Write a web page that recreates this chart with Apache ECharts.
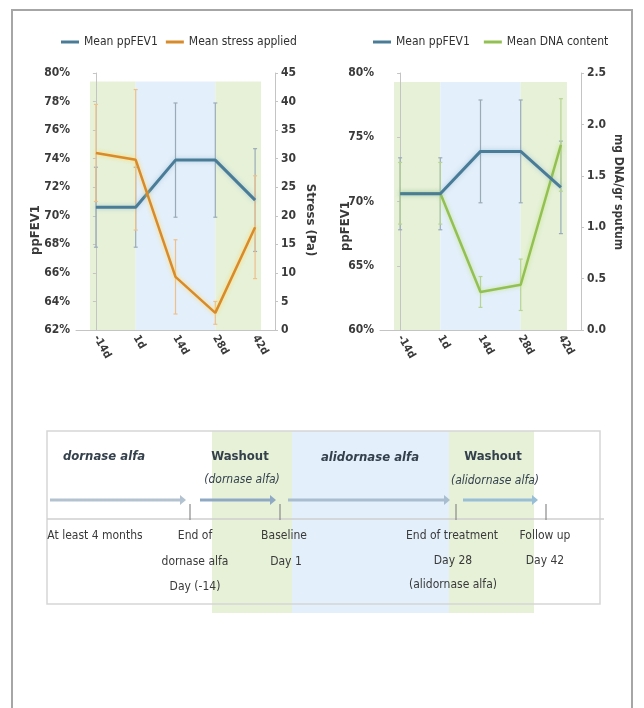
<!DOCTYPE html>
<html>
<head>
<meta charset="utf-8">
<script src="https://cdn.jsdelivr.net/npm/echarts@6/dist/echarts.min.js"></script>
<style>
  html, body { margin: 0; padding: 0; background: #fff; }
  #chart { width: 644px; height: 708px; }
</style>
</head>
<body>
<div id="chart"></div>
<script>
// Visit labels shared by both panels
const visits = ['-14d', '1d', '14d', '28d', '42d'];

// Mean ppFEV1 (%) and its spread
const ppfev1 = [70.6, 70.6, 73.9, 73.9, 71.1];
const ppfev1Sd = [2.8, 2.8, 4.0, 4.0, 3.6];

// Mean stress applied (Pa) and its spread
const stress = [31.0, 29.8, 9.3, 3.0, 18.0];
const stressSd = [8.5, 12.3, 6.5, 2.0, 9.0];

// Mean DNA content (mg DNA/gr sputum) and its spread
const dna = [1.33, 1.33, 0.37, 0.44, 1.80];
const dnaSd = [0.30, 0.30, 0.15, 0.25, 0.45];

// Study phases behind the curves: start / end visit index, phase colour
const phaseStart = [-0.15, 1, 3];
const phaseEnd = [1, 3, 4.15];
const phaseColor = ['#e6f1d8', '#e3effa', '#e6f1d8'];

const FONT = "'Liberation Sans Narrow', 'DejaVu Sans Condensed', 'Liberation Sans', sans-serif";
const TXT = '#3a3a3a';
const BLUE = '#4a7c98';
const ORANGE = '#d98a2b';
const GREEN = '#93c052';

function bandSeries(xi, yi, yTop, yBottom) {
  return {
    type: 'custom',
    xAxisIndex: xi, yAxisIndex: yi,
    silent: true, z: 0,
    data: phaseStart.map((s, i) => [s, phaseEnd[i], i]),
    renderItem: function (params, api) {
      const p0 = api.coord([api.value(0), yTop]);
      const p1 = api.coord([api.value(1), yBottom]);
      return {
        type: 'rect',
        shape: { x: p0[0], y: p0[1], width: p1[0] - p0[0], height: p1[1] - p0[1] },
        style: { fill: phaseColor[api.value(2)] }
      };
    }
  };
}

function errorSeries(xi, yi, means, sds, color) {
  return {
    type: 'custom',
    xAxisIndex: xi, yAxisIndex: yi,
    silent: true, z: 2,
    data: means.map((m, i) => [i, m - sds[i], m + sds[i]]),
    renderItem: function (params, api) {
      const lo = api.coord([api.value(0), api.value(1)]);
      const hi = api.coord([api.value(0), api.value(2)]);
      const st = { stroke: color, lineWidth: 1.2 };
      return {
        type: 'group',
        children: [
          { type: 'line', shape: { x1: lo[0], y1: lo[1], x2: hi[0], y2: hi[1] }, style: st },
          { type: 'line', shape: { x1: lo[0] - 2, y1: lo[1], x2: lo[0] + 2, y2: lo[1] }, style: st },
          { type: 'line', shape: { x1: hi[0] - 2, y1: hi[1], x2: hi[0] + 2, y2: hi[1] }, style: st }
        ]
      };
    }
  };
}

function lineSeries(name, xi, yi, values, color, width, glow) {
  return {
    name: name, type: 'line',
    xAxisIndex: xi, yAxisIndex: yi,
    data: values, symbol: 'none', z: 3,
    color: color,
    lineStyle: {
      color: color, width: width,
      shadowColor: glow, shadowBlur: 4
    }
  };
}

const axisLine = { show: true, lineStyle: { color: '#c4c4c4', width: 1 } };
const axisTick = { show: true, length: 3, lineStyle: { color: '#c4c4c4' } };
const labelStyle = { color: TXT, fontFamily: FONT, fontSize: 12, fontWeight: 'bold' };

function catAxis(gi) {
  return {
    type: 'category', gridIndex: gi, data: visits,
    axisLine: axisLine, axisTick: { show: false },
    axisLabel: Object.assign({ rotate: -60, margin: 6 }, labelStyle, { fontSize: 11 })
  };
}
function hiddenAxis(gi) {
  return { type: 'value', gridIndex: gi, min: -0.5, max: 4.5, show: false };
}
function valAxis(gi, pos, min, max, interval, fmt) {
  return {
    type: 'value', gridIndex: gi, position: pos,
    min: min, max: max, interval: interval,
    splitLine: { show: false },
    axisLine: axisLine, axisTick: axisTick,
    axisLabel: Object.assign({ formatter: fmt, margin: 6 }, labelStyle)
  };
}

const legendText = { color: '#303030', fontFamily: FONT, fontSize: 12 };

const option = {
  backgroundColor: '#ffffff',
  animation: false,
  legend: [
    {
      left: 56, top: 31, width: 280, icon: 'rect', itemWidth: 18, itemHeight: 3, itemGap: 8,
      data: ['Mean ppFEV1', 'Mean stress applied'], textStyle: legendText
    },
    {
      left: 368, top: 31, width: 262, icon: 'rect', itemWidth: 18, itemHeight: 3, itemGap: 14,
      data: ['Mean ppFEV1', 'Mean DNA content'], textStyle: legendText
    }
  ],
  grid: [
    { left: 76, top: 73, width: 199, height: 257 },
    { left: 380, top: 73, width: 201, height: 257 }
  ],
  xAxis: [catAxis(0), hiddenAxis(0), catAxis(1), hiddenAxis(1)],
  yAxis: [
    valAxis(0, 'left', 62, 80, 2, '{value}%'),
    valAxis(0, 'right', 0, 45, 5, '{value}'),
    valAxis(1, 'left', 60, 80, 5, '{value}%'),
    valAxis(1, 'right', 0, 2.5, 0.5, v => v.toFixed(1))
  ],
  series: [
    bandSeries(1, 0, 79.4, 62),
    errorSeries(1, 0, ppfev1, ppfev1Sd, '#9aabb8'),
    errorSeries(1, 1, stress, stressSd, '#eec08a'),
    lineSeries('Mean ppFEV1', 0, 0, ppfev1, BLUE, 3, 'rgba(120,170,200,0.5)'),
    lineSeries('Mean stress applied', 0, 1, stress, ORANGE, 2.5, 'rgba(255,215,90,0.9)'),

    bandSeries(3, 2, 79.3, 60),
    errorSeries(3, 2, ppfev1, ppfev1Sd, '#9aabb8'),
    errorSeries(3, 3, dna, dnaSd, '#b6d494'),
    lineSeries('Mean DNA content', 2, 3, dna, GREEN, 2.5, 'rgba(190,225,120,0.8)'),
    lineSeries('Mean ppFEV1', 2, 2, ppfev1, BLUE, 3, 'rgba(120,170,200,0.5)')
  ],
  graphic: buildGraphics()
};

function txt(x, y, s, opts) {
  return {
    type: 'text', x: x, y: y, silent: true,
    rotation: (opts && opts.rotation) || 0,
    style: Object.assign({
      text: s, fill: TXT, font: 'bold 12px ' + FONT,
      align: 'center', verticalAlign: 'middle'
    }, (opts && opts.style) || {})
  };
}

function arrow(x1, x2, y, color) {
  return [
    { type: 'line', silent: true, shape: { x1: x1, y1: y, x2: x2 - 4, y2: y }, style: { stroke: color, lineWidth: 3 } },
    { type: 'polygon', silent: true, shape: { points: [[x2 - 6, y - 5], [x2, y], [x2 - 6, y + 5]] }, style: { fill: color } }
  ];
}

function tick(x) {
  return { type: 'line', silent: true, shape: { x1: x, y1: 504, x2: x, y2: 520 }, style: { stroke: '#8a8a8a', lineWidth: 1.2 } };
}

function buildGraphics() {
  const g = [];
  // outer frame
  g.push({ type: 'rect', silent: true, shape: { x: 12, y: 10, width: 620, height: 720 }, style: { fill: 'none', stroke: '#a6a6a6', lineWidth: 2 } });

  // axis titles of the two panels
  g.push(txt(36, 230, 'ppFEV1', { rotation: Math.PI / 2, style: { font: 'bold 13px ' + FONT } }));
  g.push(txt(310, 220, 'Stress (Pa)', { rotation: -Math.PI / 2, style: { font: 'bold 13px ' + FONT } }));
  g.push(txt(346, 226, 'ppFEV1', { rotation: Math.PI / 2, style: { font: 'bold 13px ' + FONT } }));
  g.push(txt(618, 192, 'mg DNA/gr sputum', { rotation: -Math.PI / 2, style: { font: 'bold 12px ' + FONT } }));

  // study timeline: phase shading
  g.push({ type: 'rect', silent: true, z: -1, shape: { x: 212, y: 431, width: 80, height: 182 }, style: { fill: '#e6f1d8' } });
  g.push({ type: 'rect', silent: true, z: -1, shape: { x: 292, y: 431, width: 157, height: 182 }, style: { fill: '#e3effa' } });
  g.push({ type: 'rect', silent: true, z: -1, shape: { x: 449, y: 431, width: 85, height: 182 }, style: { fill: '#e6f1d8' } });
  // timeline box and divider
  g.push({ type: 'rect', silent: true, shape: { x: 47, y: 431, width: 553, height: 173 }, style: { fill: 'none', stroke: '#d6d6d6', lineWidth: 1.5 } });
  g.push({ type: 'line', silent: true, shape: { x1: 47, y1: 519, x2: 604, y2: 519 }, style: { stroke: '#cfcfcf', lineWidth: 1.5 } });

  // phase arrows and visit ticks
  arrow(50, 186, 500, '#b3c2d0').forEach(e => g.push(e));
  arrow(200, 276, 500, '#8fa9c4').forEach(e => g.push(e));
  arrow(288, 450, 500, '#a9bdd1').forEach(e => g.push(e));
  arrow(463, 538, 500, '#98bfd6').forEach(e => g.push(e));
  [190, 280, 456, 546].forEach(x => g.push(tick(x)));

  const bi = 'italic bold 13px ' + FONT;
  const b = 'bold 13px ' + FONT;
  const it = 'italic 12px ' + FONT;
  const n = '12px ' + FONT;
  const dark = '#34404c';
  g.push(txt(104, 457, 'dornase alfa', { style: { font: bi, fill: dark } }));
  g.push(txt(240, 457, 'Washout', { style: { font: b, fill: dark } }));
  g.push(txt(242, 480, '(dornase alfa)', { style: { font: it, fill: dark } }));
  g.push(txt(370, 458, 'alidornase alfa', { style: { font: bi, fill: dark } }));
  g.push(txt(493, 457, 'Washout', { style: { font: b, fill: dark } }));
  g.push(txt(495, 481, '(alidornase alfa)', { style: { font: it, fill: dark } }));

  g.push(txt(95, 536, 'At least 4 months', { style: { font: n } }));
  g.push(txt(195, 536, 'End of', { style: { font: n } }));
  g.push(txt(195, 562, 'dornase alfa', { style: { font: n } }));
  g.push(txt(195, 587, 'Day (-14)', { style: { font: n } }));
  g.push(txt(284, 536, 'Baseline', { style: { font: n } }));
  g.push(txt(286, 562, 'Day 1', { style: { font: n } }));
  g.push(txt(452, 536, 'End of treatment', { style: { font: n } }));
  g.push(txt(453, 561, 'Day 28', { style: { font: n } }));
  g.push(txt(453, 585, '(alidornase alfa)', { style: { font: n } }));
  g.push(txt(545, 536, 'Follow up', { style: { font: n } }));
  g.push(txt(545, 561, 'Day 42', { style: { font: n } }));
  return g;
}

const chart = echarts.init(document.getElementById('chart'), null, { renderer: 'canvas' });
chart.setOption(option);
</script>
</body>
</html>
